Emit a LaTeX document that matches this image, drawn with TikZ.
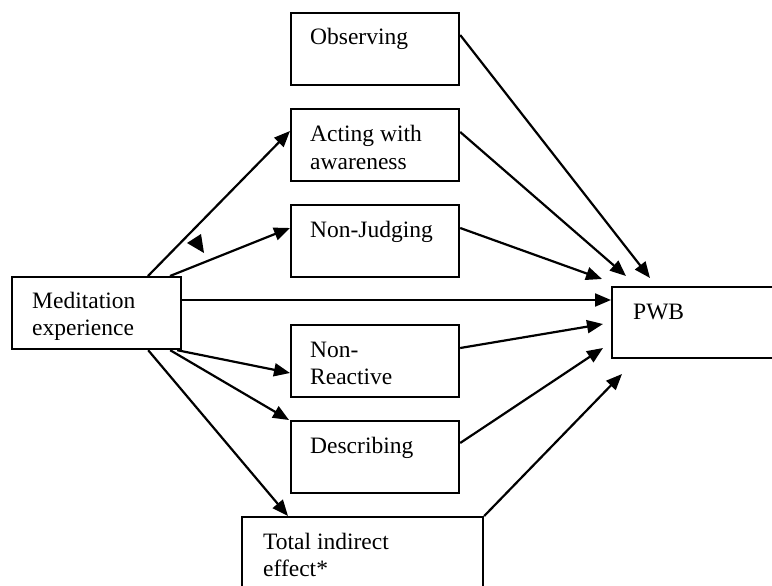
\documentclass[tikz,border=0pt]{standalone}
\usepackage{fontspec}
\setmainfont{Liberation Serif}
\usetikzlibrary{arrows.meta}
\begin{document}
\begin{tikzpicture}[x=1pt,y=-1pt,
  box/.style={draw,line width=2.2pt,rectangle,anchor=north west,inner sep=0pt},
  lbl/.style={anchor=base west,inner sep=0pt,font=\fontsize{23.5}{27}\selectfont},
  arr/.style={line width=2.2pt,-{Triangle[length=16pt,width=13pt]}}]
\useasboundingbox (0,0) rectangle (772,586);
% boxes
\node[box,minimum width=168pt,minimum height=72pt] (obs) at (290,12) {};
\node[box,minimum width=168pt,minimum height=72pt] (act) at (290,108) {};
\node[box,minimum width=168pt,minimum height=72pt] (nj) at (290,204) {};
\node[box,minimum width=169pt,minimum height=72pt] (med) at (11,276) {};
\node[box,minimum width=175pt,minimum height=71pt] (pwb) at (611,286) {};
\node[box,minimum width=168pt,minimum height=72pt] (nr) at (290,324) {};
\node[box,minimum width=168pt,minimum height=72pt] (desc) at (290,420) {};
\node[box,minimum width=241pt,minimum height=90pt] (tot) at (241,516) {};
% labels
\node[lbl] (tobs) at (310,45) {Observing};
\node[lbl] (tact1) at (310,142) {Acting with};
\node[lbl] (tact2) at (310,169) {awareness};
\node[lbl] (tnj) at (310,237) {Non-Judging};
\node[lbl] (tmed1) at (32,308) {Meditation};
\node[lbl] (tmed2) at (32,335) {experience};
\node[lbl] (tpwb) at (633,319) {PWB};
\node[lbl] (tnr1) at (310,357) {Non-};
\node[lbl] (tnr2) at (310,384) {Reactive};
\node[lbl] (tdesc) at (310,453) {Describing};
\node[lbl] (ttot1) at (263,549) {Total indirect};
\node[lbl] (ttot2) at (263,576) {effect*};
% target points just outside PWB
\coordinate (p1) at (650,278);
\coordinate (p2) at (626,276);
\coordinate (p3) at (602,279);
\coordinate (p4) at (603,324);
\coordinate (p5) at (603,348);
\coordinate (p6) at (622,374);
% arrows from meditation
\draw[arr] ([xshift=137pt]med.north west) -- ([yshift=-23pt]act.north west);
\draw[arr] ([xshift=159pt]med.north west) -- ([yshift=-24pt]nj.north west);
\draw[arr] ([yshift=-24pt]med.north east) -- ([yshift=-14pt]pwb.north west);
\draw[arr] ([xshift=-5pt]med.south east) -- ([yshift=-49pt]nr.north west);
\draw[arr] ([xshift=-12pt]med.south east) -- ([xshift=-1pt]desc.north west);
\draw[arr] ([xshift=-34pt]med.south east) -- ([xshift=47pt]tot.north west);
% arrows into PWB
\draw[arr] ([yshift=-23pt]obs.north east) -- (p1);
\draw[arr] ([yshift=-24pt]act.north east) -- (p2);
\draw[arr] ([yshift=-24pt]nj.north east) -- (p3);
\draw[arr] ([yshift=-24pt]nr.north east) -- (p4);
\draw[arr] ([yshift=-23pt]desc.north east) -- (p5);
\draw[arr] (tot.north east) -- (p6);
% stray arrowhead
\coordinate (sa) at (187,243);
\fill (sa) -- (201,234) -- (204,253) -- cycle;
\end{tikzpicture}
\end{document}
